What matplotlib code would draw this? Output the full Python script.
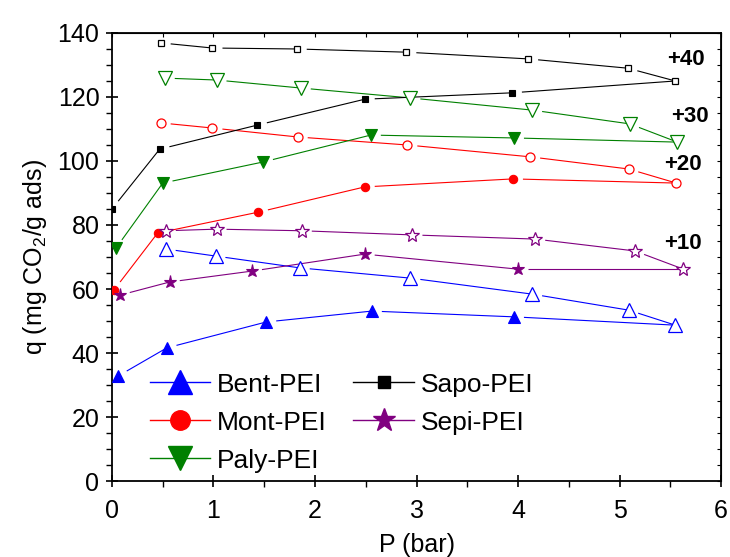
import matplotlib
matplotlib.use("Agg")
import matplotlib.pyplot as plt
import numpy as np
from matplotlib.lines import Line2D
from matplotlib.ticker import MultipleLocator

plt.rcParams['font.family'] = ['Liberation Sans', 'DejaVu Sans']
plt.rcParams['mathtext.default'] = 'regular'

# ---- data (offsets +10..+40 already included as plotted) ----
names = ["Bent-PEI", "Mont-PEI", "Paly-PEI", "Sapo-PEI", "Sepi-PEI"]
colors = ["#0000FF", "#FF0000", "#008000", "#000000", "#800080"]
markers = ["^", "o", "v", "s", "*"]

# adsorption branch (filled markers)
bent_ads_x = [0.06, 0.54, 1.52, 2.56, 3.96]
bent_ads_y = [32.8, 41.6, 49.7, 53.1, 51.3]
mont_ads_x = [0.02, 0.45, 1.44, 2.49, 3.95]
mont_ads_y = [59.7, 77.5, 84.0, 91.9, 94.4]
paly_ads_x = [0.04, 0.50, 1.49, 2.55, 3.96]
paly_ads_y = [72.8, 93.1, 99.7, 108.1, 107.2]
sapo_ads_x = [0.0, 0.47, 1.43, 2.49, 3.94]
sapo_ads_y = [85.0, 103.7, 111.2, 119.3, 121.3]
sepi_ads_x = [0.08, 0.57, 1.38, 2.49, 4.00]
sepi_ads_y = [58.1, 62.2, 65.6, 70.9, 66.2]

# desorption branch (open markers), last point shared with adsorption end
bent_des_x = [0.53, 1.02, 1.85, 2.94, 4.14, 5.09, 5.55]
bent_des_y = [72.5, 70.3, 66.6, 63.4, 58.4, 53.4, 48.7]
mont_des_x = [0.48, 0.99, 1.83, 2.91, 4.12, 5.09, 5.56]
mont_des_y = [111.9, 110.3, 107.5, 105.0, 101.3, 97.5, 93.1]
paly_des_x = [0.52, 1.03, 1.86, 2.94, 4.14, 5.10, 5.57]
paly_des_y = [125.9, 125.3, 122.8, 119.7, 115.9, 111.6, 105.9]
sapo_des_x = [0.48, 0.99, 1.82, 2.90, 4.10, 5.08, 5.55]
sapo_des_y = [136.9, 135.3, 135.0, 134.0, 131.9, 129.0, 125.0]
sepi_des_x = [0.53, 1.03, 1.87, 2.96, 4.17, 5.15, 5.63]
sepi_des_y = [78.2, 78.7, 78.2, 76.9, 75.6, 71.9, 66.2]

offset_labels = ["+40", "+30", "+20", "+10"]
offset_x = [5.65, 5.69, 5.62, 5.62]
offset_y = [131.6, 113.8, 98.8, 74.1]

ads_x = [bent_ads_x, mont_ads_x, paly_ads_x, sapo_ads_x, sepi_ads_x]
ads_y = [bent_ads_y, mont_ads_y, paly_ads_y, sapo_ads_y, sepi_ads_y]
des_x = [bent_des_x, mont_des_x, paly_des_x, sapo_des_x, sepi_des_x]
des_y = [bent_des_y, mont_des_y, paly_des_y, sapo_des_y, sepi_des_y]

fill_ms = [8.5, 6.0, 8.5, 5.0, 9.5]
open_ms = [9.5, 6.5, 9.5, 5.0, 10.0]
leg_ms = [17.0, 14.0, 17.0, 9.0, 17.0]

fig = plt.figure(figsize=(7.30, 5.57), dpi=100)
ax = fig.add_axes([0.1534, 0.1364, 0.8343, 0.8044])
ax.set_xlim(0, 6)
ax.set_ylim(0, 140)

GAP_PX = 10.0  # Origin-style gap after the starting point of each segment


def gapped_line(xs, ys, color, lw):
    pts = ax.transData.transform(np.column_stack([xs, ys]))
    inv = ax.transData.inverted()
    for k in range(len(pts) - 1):
        p0, p1 = pts[k], pts[k + 1]
        d = p1 - p0
        L = np.hypot(*d)
        if L <= GAP_PX + 1:
            continue
        s = p0 + d * (GAP_PX / L)
        seg = inv.transform(np.vstack([s, p1]))
        ax.plot(seg[:, 0], seg[:, 1], '-', color=color, lw=lw, zorder=2,
                solid_capstyle='butt')


lw = 0.8
for i in range(5):
    c = colors[i]
    m = markers[i]
    lx = ads_x[i] + [des_x[i][-1]]
    ly = ads_y[i] + [des_y[i][-1]]
    gapped_line(lx, ly, c, lw)
    ax.plot(ads_x[i], ads_y[i], ls='none', marker=m, ms=fill_ms[i],
            mfc=c, mec=c, mew=0.8, zorder=3)
    gapped_line(des_x[i], des_y[i], c, lw)
    ax.plot(des_x[i], des_y[i], ls='none', marker=m, ms=open_ms[i],
            mfc='white', mec=c, mew=0.9, zorder=3)

for t, x, y in zip(offset_labels, offset_x, offset_y):
    ax.text(x, y, t, fontsize=16, fontweight='bold', ha='center', va='center')

ax.xaxis.set_major_locator(MultipleLocator(1))
ax.xaxis.set_minor_locator(MultipleLocator(0.5))
ax.yaxis.set_major_locator(MultipleLocator(20))
ax.yaxis.set_minor_locator(MultipleLocator(5))
ax.tick_params(which='major', direction='inout', length=9, width=1.2,
               labelsize=18)
ax.tick_params(axis='x', which='major', pad=8.5)
ax.tick_params(axis='y', which='major', pad=4.5)
ax.tick_params(which='minor', direction='out', length=4.5, width=1.0)
for s in ax.spines.values():
    s.set_linewidth(1.3)

# mirrored ticks on top and right
axt = ax.secondary_xaxis('top')
axt.xaxis.set_major_locator(MultipleLocator(1))
axt.xaxis.set_minor_locator(MultipleLocator(0.5))
axt.tick_params(which='both', direction='in', length=3, width=0.8, labeltop=False)
axr = ax.secondary_yaxis('right')
axr.yaxis.set_major_locator(MultipleLocator(20))
axr.yaxis.set_minor_locator(MultipleLocator(5))
axr.tick_params(which='both', direction='in', length=3, width=0.8, labelright=False)

ax.set_xlabel('P (bar)', fontsize=18, labelpad=7)
ax.set_ylabel('q (mg CO$_2$/g ads)', fontsize=18, labelpad=6)

handles = [Line2D([], [], color=colors[i], lw=1.0, marker=markers[i],
                  ms=leg_ms[i], mfc=colors[i], mec=colors[i]) for i in range(5)]
leg = ax.legend(handles, names, ncol=2, loc='upper left',
                bbox_to_anchor=(0.062, 0.242), frameon=False, fontsize=19,
                handlelength=2.3, handletextpad=0.25, columnspacing=1.0,
                labelspacing=0.53, borderpad=0, borderaxespad=0)

fig.savefig('out.png', dpi=100)
